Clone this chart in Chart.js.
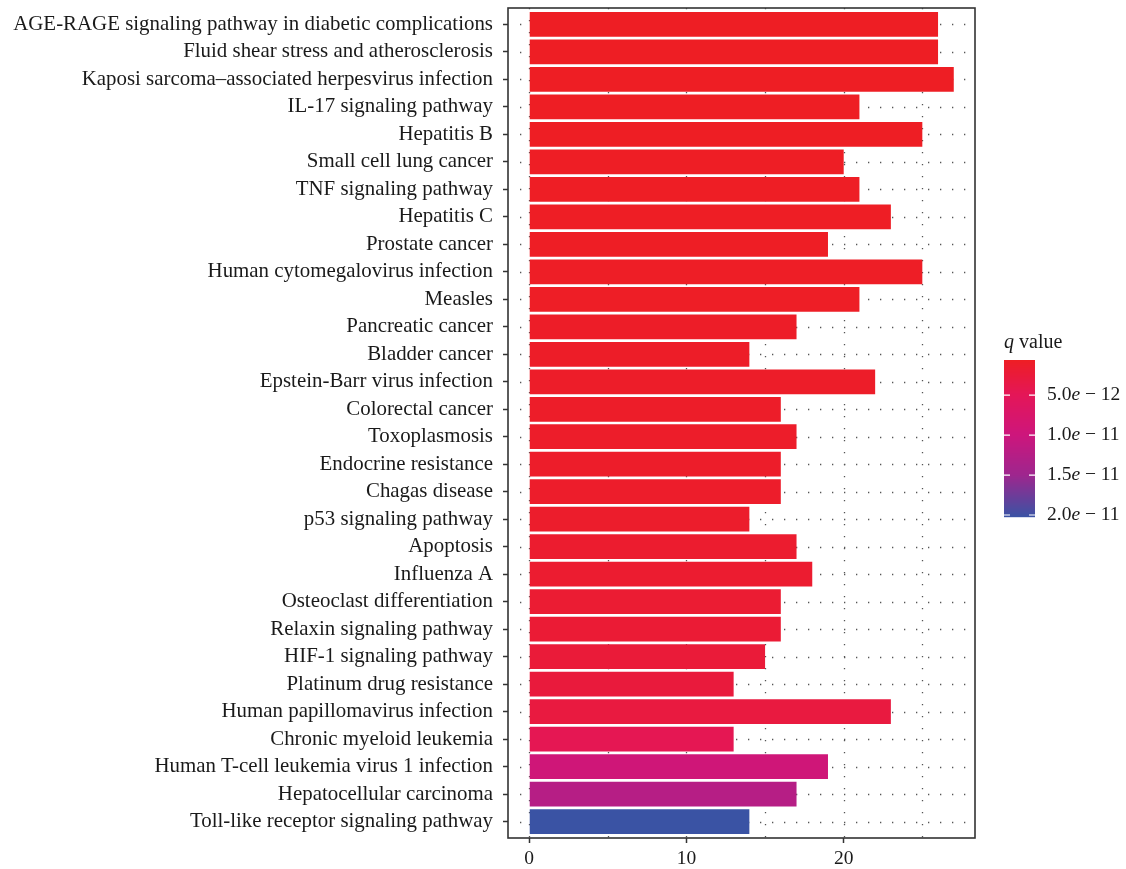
<!DOCTYPE html>
<html>
<head>
<meta charset="utf-8">
<script src="https://cdn.jsdelivr.net/npm/chart.js@4.4.1/dist/chart.umd.min.js"></script>
<style>
  html, body { margin: 0; padding: 0; background: #ffffff; }
  #wrap { width: 1126px; height: 869px; position: relative; }
</style>
</head>
<body>
<div id="wrap"><canvas id="chart"></canvas></div>
<script>
// KEGG pathways, top to bottom
const categories = [
  'AGE-RAGE signaling pathway in diabetic complications',
  'Fluid shear stress and atherosclerosis',
  'Kaposi sarcoma\u2013associated herpesvirus infection',
  'IL-17 signaling pathway',
  'Hepatitis B',
  'Small cell lung cancer',
  'TNF signaling pathway',
  'Hepatitis C',
  'Prostate cancer',
  'Human cytomegalovirus infection',
  'Measles',
  'Pancreatic cancer',
  'Bladder cancer',
  'Epstein-Barr virus infection',
  'Colorectal cancer',
  'Toxoplasmosis',
  'Endocrine resistance',
  'Chagas disease',
  'p53 signaling pathway',
  'Apoptosis',
  'Influenza A',
  'Osteoclast differentiation',
  'Relaxin signaling pathway',
  'HIF-1 signaling pathway',
  'Platinum drug resistance',
  'Human papillomavirus infection',
  'Chronic myeloid leukemia',
  'Human T-cell leukemia virus 1 infection',
  'Hepatocellular carcinoma',
  'Toll-like receptor signaling pathway'
];

// gene counts per pathway
const geneCounts = [26, 26, 27, 21, 25, 20, 21, 23, 19, 25,
                    21, 17, 14, 22, 16, 17, 16, 16, 14, 17,
                    18, 16, 16, 15, 13, 23, 13, 19, 17, 14];

// adjusted p (q) values per pathway
const qValues = [6.0e-13, 6.0e-13, 6.0e-13, 6.0e-13, 6.0e-13, 6.5e-13, 7.0e-13, 7.0e-13, 7.0e-13, 8.0e-13,
                 8.0e-13, 9.0e-13, 9.0e-13, 1.0e-12, 1.0e-12, 1.1e-12, 1.1e-12, 1.2e-12, 1.3e-12, 1.5e-12,
                 1.6e-12, 1.9e-12, 2.0e-12, 2.4e-12, 2.6e-12, 3.0e-12, 4.6e-12, 9.5e-12, 1.25e-11, 2.025e-11];

const xTickValues = [0, 10, 20];
const xGridValues = [0, 5, 10, 15, 20, 25];

const legendTickValues = [5.0e-12, 1.0e-11, 1.5e-11, 2.0e-11];
const legendMantissas = ['5.0', '1.0', '1.5', '2.0'];
const legendExponents = ['12', '11', '11', '11'];

// colour ramp for q values (red = most significant, blue = least)
const rampStops = [
  [6.0e-13,  [238, 30, 36]],
  [5.0e-12,  [228, 22, 88]],
  [1.0e-11,  [205, 22, 124]],
  [1.5e-11,  [158, 38, 142]],
  [2.025e-11,[58, 83, 164]]
];
function qColor(q) {
  if (q <= rampStops[0][0]) return rgb(rampStops[0][1]);
  for (let i = 1; i < rampStops.length; i++) {
    const [q1, c1] = rampStops[i];
    const [q0, c0] = rampStops[i - 1];
    if (q <= q1) {
      const t = (q - q0) / (q1 - q0);
      return rgb(c0.map((v, k) => v + (c1[k] - v) * t));
    }
  }
  return rgb(rampStops[rampStops.length - 1][1]);
}
function rgb(c) { return 'rgb(' + c.map(v => Math.round(v)).join(',') + ')'; }

const qMin = Math.min(...qValues);
const qMax = Math.max(...qValues);

const SERIF = '"Liberation Serif", "DejaVu Serif", serif';
const TEXT = '#1a1a1a';
const AXIS = '#333333';

// dotted panel grid behind the bars, solid panel frame on top
const panelPlugin = {
  id: 'panel',
  beforeDatasetsDraw(chart) {
    const { ctx, chartArea: a, scales: { x, y } } = chart;
    ctx.save();
    ctx.strokeStyle = '#555555';
    ctx.lineWidth = 1.3;
    ctx.setLineDash([1.3, 10.7]);
    xGridValues.forEach(v => {
      const px = Math.round(x.getPixelForValue(v)) + 0.5;
      ctx.beginPath(); ctx.moveTo(px, a.top); ctx.lineTo(px, a.bottom); ctx.stroke();
    });
    categories.forEach((c, i) => {
      const py = Math.round(y.getPixelForValue(i + 1)) + 0.5;
      ctx.beginPath(); ctx.moveTo(a.left + 12, py); ctx.lineTo(a.right, py); ctx.stroke();
    });
    ctx.restore();
  },
  afterDatasetsDraw(chart) {
    const { ctx, chartArea: a } = chart;
    ctx.save();
    ctx.strokeStyle = AXIS;
    ctx.lineWidth = 1.6;
    ctx.strokeRect(a.left, a.top, a.right - a.left, a.bottom - a.top);
    ctx.restore();
  }
};

// continuous colour bar legend for q value
const colorbarPlugin = {
  id: 'colorbar',
  afterDraw(chart) {
    const ctx = chart.ctx;
    const bx = 1004, by = 360, bw = 31, bh = 157;
    ctx.save();
    ctx.fillStyle = TEXT;
    ctx.textBaseline = 'alphabetic';
    ctx.textAlign = 'left';
    ctx.font = 'italic 20px ' + SERIF;
    ctx.fillText('q', bx, 348);
    const qw = ctx.measureText('q').width;
    ctx.font = '20px ' + SERIF;
    ctx.fillText(' value', bx + qw, 348);
    for (let i = 0; i < bh; i++) {
      const q = qMin + (qMax - qMin) * (i + 0.5) / bh;
      ctx.fillStyle = qColor(q);
      ctx.fillRect(bx, by + i, bw, 1.2);
    }
    legendTickValues.forEach((q, i) => {
      const ty = by + (q - qMin) / (qMax - qMin) * bh;
      ctx.strokeStyle = '#ffffff';
      ctx.lineWidth = 1.2;
      ctx.beginPath();
      ctx.moveTo(bx, ty); ctx.lineTo(bx + 6, ty);
      ctx.moveTo(bx + bw - 6, ty); ctx.lineTo(bx + bw, ty);
      ctx.stroke();
      ctx.fillStyle = TEXT;
      ctx.textBaseline = 'middle';
      let tx = 1047;
      ctx.font = '19.5px ' + SERIF;
      ctx.fillText(legendMantissas[i], tx, ty);
      tx += ctx.measureText(legendMantissas[i]).width;
      ctx.font = 'italic 19.5px ' + SERIF;
      ctx.fillText('e', tx, ty);
      tx += ctx.measureText('e').width;
      ctx.font = '19.5px ' + SERIF;
      ctx.fillText(' \u2212 ' + legendExponents[i], tx, ty);
    });
    ctx.restore();
  }
};

new Chart(document.getElementById('chart'), {
  type: 'bar',
  data: {
    datasets: [{
      data: categories.map((c, i) => ({ x: geneCounts[i], y: i + 1 })),
      backgroundColor: qValues.map(qColor),
      borderWidth: 0,
      barPercentage: 0.9,
      categoryPercentage: 1.0
    }]
  },
  options: {
    indexAxis: 'y',
    responsive: true,
    maintainAspectRatio: false,
    animation: false,
    layout: { padding: { left: 0, right: 151, top: 8, bottom: 0 } },
    plugins: { legend: { display: false }, tooltip: { enabled: false } },
    scales: {
      x: {
        type: 'linear',
        min: -1.35,
        max: 28.35,
        bounds: 'data',
        offset: false,
        border: { display: false },
        grid: { display: true, offset: false, drawOnChartArea: false, drawTicks: true, tickLength: 5, tickColor: AXIS, tickWidth: 1.5 },
        ticks: {
          padding: 4,
          color: TEXT,
          font: { family: SERIF, size: 19.5 },
          callback: v => String(v)
        },
        afterBuildTicks: s => { s.ticks = xTickValues.map(v => ({ value: v })); },
        afterFit: s => { s.height = 31; s.paddingLeft = 0; s.paddingRight = 0; }
      },
      y: {
        type: 'linear',
        min: 0.4,
        max: 30.6,
        reverse: true,
        bounds: 'data',
        offset: false,
        border: { display: false },
        grid: { display: true, offset: false, drawOnChartArea: false, drawTicks: true, tickLength: 5, tickColor: AXIS, tickWidth: 1.5 },
        ticks: {
          autoSkip: false,
          padding: 10,
          color: TEXT,
          font: { family: SERIF, size: 20.9 },
          callback: v => categories[v - 1]
        },
        afterBuildTicks: s => { s.ticks = categories.map((c, i) => ({ value: i + 1 })); },
        afterFit: s => { s.width = 508; s.paddingTop = 0; s.paddingBottom = 0; }
      }
    }
  },
  plugins: [panelPlugin, colorbarPlugin]
});
</script>
</body>
</html>
